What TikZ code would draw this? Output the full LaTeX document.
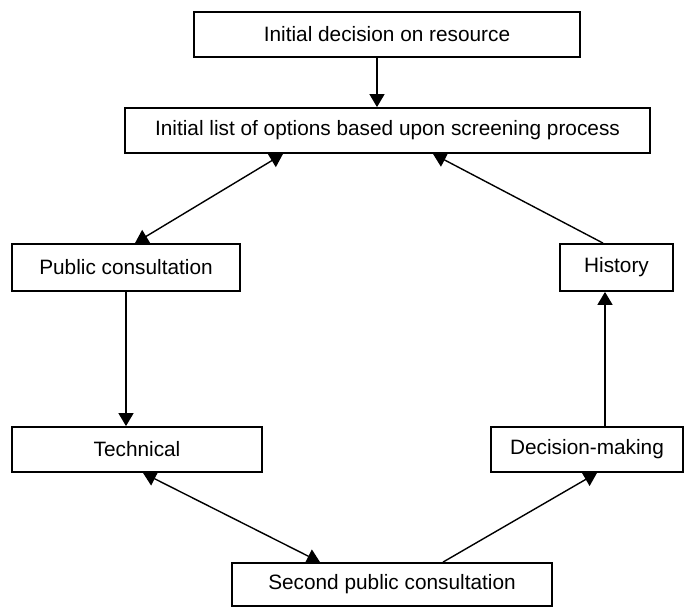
\documentclass[tikz,border=0pt]{standalone}
\usepackage{fontspec}
\setmainfont{Liberation Sans}
\usetikzlibrary{arrows.meta}

\tikzset{
    box/.style={draw, line width=0.9pt, minimum height=22.5pt, inner sep=0pt,
        font=\fontsize{10.4}{12}\selectfont},
    arr/.style={line width=0.7pt, -{Triangle[length=6.5pt,width=7.5pt]}},
    dblarr/.style={line width=0.7pt, {Triangle[length=6.5pt,width=7.5pt]}-{Triangle[length=6.5pt,width=7.5pt]}},
}

\begin{document}
\begin{tikzpicture}[x=0.5pt, y=-0.5pt]
        \useasboundingbox (0, 0) rectangle (685, 608);
        \node[box, minimum width=193pt]   (init)    at (387, 34.5)    {Initial decision on resource};
        \node[box, minimum width=262.5pt] (options) at (387.5, 130.5) {Initial list of options based upon screening process};
        \node[box, minimum width=114pt, minimum height=23.5pt]  (public)  at (126, 267.5)   {Public consultation};
        \node[box, minimum width=56.5pt, minimum height=23.5pt] (history) at (616.5, 267.5) {History};
        \node[box, minimum width=125pt]   (tech)    at (137, 449.5)   {Technical};
        \node[box, minimum width=96pt]    (decide)  at (587, 449.5)   {Decision-making};
        \node[box, minimum width=160pt, minimum height=21.5pt] (second) at (392, 584.5) {Second public consultation};

        \draw[arr]    ([xshift=-5pt]init.south) -- ([xshift=-5.25pt]options.north);
        \draw[dblarr] ([xshift=-52.25pt]options.south) -- ([xshift=4.5pt]public.north);
        \draw[arr]    ([xshift=-6.75pt]history.north) -- ([xshift=22.75pt]options.south);
        \draw[arr]    (public.south) -- (public.south |- tech.north);
        \draw[dblarr] ([xshift=3pt]tech.south) -- ([xshift=-36pt]second.north);
        \draw[arr]    ([xshift=25.5pt]second.north) -- ([xshift=5pt]decide.south);
        \draw[arr]    ([xshift=-5.75pt]history.south |- decide.north) -- ([xshift=-5.75pt]history.south);
\end{tikzpicture}
\end{document}
